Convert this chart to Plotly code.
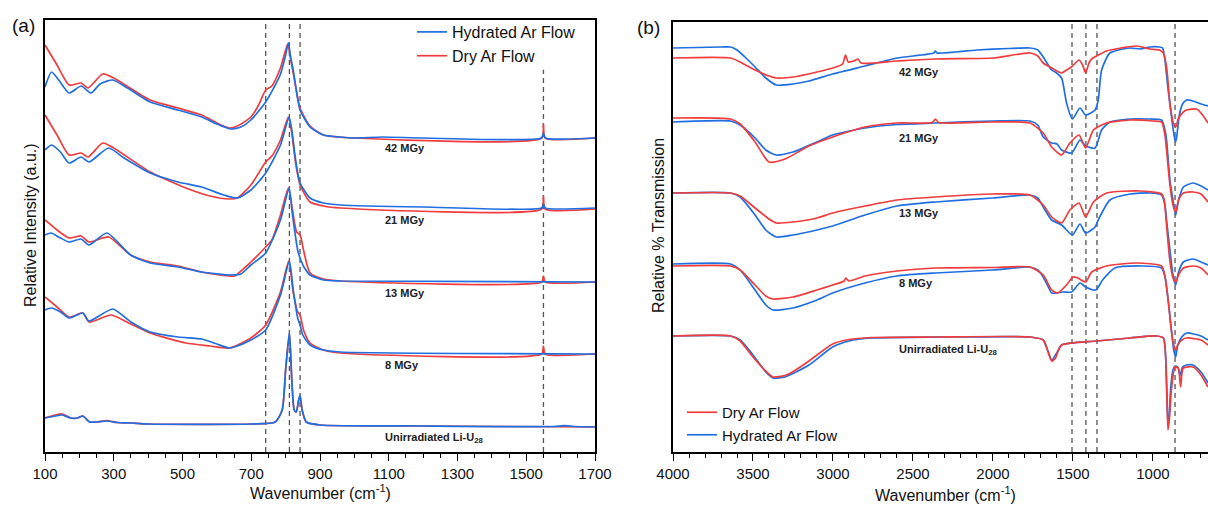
import plotly.graph_objects as go

# ---------------- Panel (a): Raman (stacked, a.u.) ----------------
A_OFFSETS = {"42": 3.14, "21": 2.43, "13": 1.70, "8": 0.98, "0": 0.25}

A42_HYD_X = [100, 119, 140, 170, 205, 234, 260, 297, 340, 406, 487, 556, 600, 640, 670, 699, 742, 784, 800, 808, 815, 822, 842, 871, 910, 958, 1000, 1080, 1200, 1545, 1550, 1555, 1700]
A42_HYD_Y = [0.51, 0.66, 0.58, 0.45, 0.52, 0.45, 0.54, 0.58, 0.50, 0.36, 0.28, 0.21, 0.14, 0.09, 0.11, 0.18, 0.36, 0.63, 0.83, 0.95, 0.80, 0.68, 0.28, 0.11, 0.03, 0.01, 0.00, 0.01, 0.00, 0.00, 0.05, 0.00, 0.00]
A42_DRY_X = [100, 135, 170, 205, 225, 268, 300, 406, 487, 556, 600, 636, 660, 699, 720, 742, 760, 785, 806, 815, 825, 842, 871, 910, 1000, 1545, 1550, 1555, 1700]
A42_DRY_Y = [0.93, 0.73, 0.53, 0.55, 0.50, 0.64, 0.60, 0.38, 0.30, 0.23, 0.15, 0.10, 0.12, 0.21, 0.32, 0.48, 0.52, 0.70, 0.94, 0.78, 0.60, 0.30, 0.12, 0.03, 0.00, 0.00, 0.14, 0.00, 0.00]

A21_HYD_X = [100, 119, 145, 170, 205, 228, 285, 330, 406, 487, 556, 620, 659, 699, 742, 785, 810, 818, 829, 842, 871, 910, 960, 1200, 1545, 1550, 1555, 1700]
A21_HYD_Y = [0.59, 0.64, 0.57, 0.46, 0.52, 0.47, 0.61, 0.51, 0.36, 0.27, 0.22, 0.14, 0.11, 0.19, 0.36, 0.64, 0.92, 0.79, 0.49, 0.26, 0.11, 0.06, 0.04, 0.02, 0.01, 0.05, 0.01, 0.01]
A21_DRY_X = [100, 135, 170, 205, 225, 268, 300, 406, 510, 580, 636, 660, 699, 742, 760, 785, 808, 818, 829, 842, 871, 910, 960, 1545, 1550, 1555, 1700]
A21_DRY_Y = [0.94, 0.74, 0.54, 0.56, 0.52, 0.66, 0.61, 0.37, 0.21, 0.13, 0.10, 0.11, 0.24, 0.47, 0.53, 0.69, 0.92, 0.76, 0.46, 0.24, 0.07, 0.03, 0.01, 0.00, 0.13, 0.00, 0.00]

A13_HYD_X = [100, 118, 145, 170, 205, 228, 280, 349, 406, 487, 556, 640, 670, 699, 742, 785, 810, 820, 835, 842, 855, 871, 910, 960, 1700]
A13_HYD_Y = [0.47, 0.49, 0.44, 0.40, 0.43, 0.37, 0.49, 0.27, 0.19, 0.15, 0.10, 0.07, 0.08, 0.17, 0.29, 0.62, 0.94, 0.67, 0.32, 0.24, 0.14, 0.07, 0.02, 0.01, 0.00]
A13_DRY_X = [100, 135, 170, 205, 228, 285, 349, 406, 487, 556, 636, 651, 699, 742, 760, 785, 808, 820, 832, 842, 852, 871, 910, 960, 1545, 1550, 1555, 1700]
A13_DRY_Y = [0.62, 0.52, 0.44, 0.46, 0.40, 0.45, 0.27, 0.20, 0.16, 0.10, 0.06, 0.06, 0.20, 0.35, 0.42, 0.67, 0.94, 0.72, 0.50, 0.47, 0.32, 0.09, 0.03, 0.01, 0.00, 0.06, 0.00, 0.00]

A8_HYD_X = [100, 118, 145, 170, 210, 228, 297, 350, 406, 487, 556, 600, 636, 651, 699, 742, 785, 811, 822, 835, 842, 850, 871, 910, 960, 1700]
A8_HYD_Y = [0.44, 0.46, 0.42, 0.36, 0.41, 0.33, 0.45, 0.32, 0.22, 0.17, 0.15, 0.10, 0.06, 0.07, 0.14, 0.24, 0.59, 0.93, 0.64, 0.36, 0.29, 0.19, 0.09, 0.04, 0.02, 0.00]
A8_DRY_X = [100, 135, 170, 210, 228, 292, 350, 406, 510, 580, 636, 699, 742, 785, 809, 822, 835, 842, 852, 871, 910, 960, 1545, 1550, 1555, 1700]
A8_DRY_Y = [0.57, 0.47, 0.37, 0.41, 0.32, 0.39, 0.30, 0.21, 0.11, 0.08, 0.06, 0.16, 0.29, 0.62, 0.93, 0.62, 0.42, 0.39, 0.24, 0.11, 0.04, 0.01, 0.00, 0.08, 0.00, 0.00]

A0_HYD_X = [100, 130, 150, 175, 195, 210, 230, 250, 280, 310, 350, 400, 700, 770, 790, 800, 811, 818, 825, 831, 838, 842, 848, 860, 900, 1200, 1580, 1610, 1640, 1700]
A0_HYD_Y = [0.09, 0.11, 0.12, 0.09, 0.09, 0.11, 0.05, 0.05, 0.06, 0.045, 0.04, 0.03, 0.03, 0.05, 0.17, 0.57, 0.95, 0.47, 0.17, 0.15, 0.27, 0.32, 0.17, 0.05, 0.02, 0.01, 0.005, 0.013, 0.005, 0.00]
A0_DRY_X = [100, 130, 150, 175, 195, 210, 230, 250, 280, 310, 350, 400, 700, 770, 790, 800, 811, 818, 825, 831, 838, 842, 848, 860, 900, 1200, 1700]
A0_DRY_Y = [0.09, 0.12, 0.13, 0.09, 0.09, 0.11, 0.05, 0.05, 0.065, 0.045, 0.04, 0.03, 0.03, 0.05, 0.17, 0.57, 0.94, 0.47, 0.17, 0.15, 0.27, 0.31, 0.17, 0.05, 0.02, 0.01, 0.00]

A_DASHED = [742, 811, 842]
A_DASHED_SHORT = [1550]
A_LABELS = ["42 MGy", "21 MGy", "13 MGy", "8 MGy", "Unirradiated Li-U<sub>28</sub>"]
A_TICKS = [100, 300, 500, 700, 900, 1100, 1300, 1500, 1700]

# ---------------- Panel (b): FTIR (stacked, relative %T) ----------------
B_OFFSETS = {"42": 4.04, "21": 3.30, "13": 2.59, "8": 1.88, "0": 1.16}

B42_HYD_X = [4000, 3700, 3640, 3600, 3550, 3487, 3420, 3354, 3250, 3150, 3002, 2800, 2600, 2370, 2360, 2350, 2100, 1900, 1769, 1720, 1686, 1633, 1602, 1571, 1540, 1504, 1456, 1421, 1362, 1342, 1321, 1269, 1144, 1081, 1019, 960, 940, 925, 905, 880, 865, 858, 850, 835, 815, 790, 750, 700, 656]
B42_HYD_Y = [0.00, 0.01, 0.01, -0.02, -0.09, -0.19, -0.30, -0.37, -0.36, -0.33, -0.26, -0.18, -0.10, -0.05, -0.03, -0.05, -0.02, -0.005, 0.00, -0.02, -0.09, -0.22, -0.25, -0.30, -0.55, -0.71, -0.60, -0.67, -0.62, -0.52, -0.22, -0.05, 0.00, -0.01, 0.01, 0.01, 0.00, -0.12, -0.42, -0.74, -0.90, -0.94, -0.87, -0.67, -0.56, -0.52, -0.53, -0.56, -0.58]
B42_DRY_X = [4000, 3640, 3580, 3500, 3400, 3354, 3250, 3100, 3002, 2940, 2922, 2905, 2870, 2844, 2825, 2600, 2360, 2000, 1769, 1720, 1686, 1633, 1571, 1540, 1510, 1462, 1440, 1421, 1400, 1383, 1290, 1200, 1102, 1019, 960, 935, 915, 894, 873, 858, 840, 810, 790, 727, 690, 656]
B42_DRY_Y = [-0.10, -0.10, -0.14, -0.21, -0.28, -0.30, -0.29, -0.24, -0.20, -0.16, -0.07, -0.14, -0.13, -0.11, -0.15, -0.13, -0.11, -0.10, -0.05, -0.08, -0.15, -0.20, -0.25, -0.22, -0.19, -0.12, -0.17, -0.25, -0.15, -0.11, -0.03, 0.00, 0.02, -0.01, -0.02, -0.05, -0.19, -0.55, -0.75, -0.79, -0.70, -0.64, -0.62, -0.61, -0.67, -0.75]

B21_HYD_X = [4000, 3640, 3580, 3487, 3420, 3354, 3250, 3100, 3002, 2800, 2600, 2360, 2000, 1769, 1720, 1686, 1633, 1600, 1571, 1509, 1456, 1421, 1362, 1321, 1269, 1144, 1019, 946, 925, 915, 894, 875, 858, 840, 810, 749, 700, 656]
B21_HYD_Y = [0.00, 0.01, -0.03, -0.16, -0.28, -0.33, -0.30, -0.20, -0.13, -0.06, -0.025, -0.01, 0.01, 0.01, -0.03, -0.15, -0.21, -0.22, -0.28, -0.31, -0.18, -0.24, -0.26, -0.08, 0.00, 0.03, 0.03, 0.02, -0.08, -0.18, -0.58, -0.78, -0.93, -0.78, -0.65, -0.61, -0.64, -0.68]
B21_DRY_X = [4000, 3640, 3580, 3487, 3400, 3300, 3150, 3002, 2800, 2600, 2380, 2360, 2340, 2000, 1769, 1686, 1633, 1571, 1519, 1462, 1421, 1372, 1290, 1144, 1000, 946, 925, 915, 894, 875, 858, 840, 810, 749, 700, 656]
B21_DRY_Y = [0.04, 0.03, -0.02, -0.20, -0.40, -0.37, -0.24, -0.15, -0.05, -0.01, -0.005, 0.03, -0.005, 0.00, -0.01, -0.11, -0.25, -0.33, -0.21, -0.13, -0.26, -0.08, -0.01, 0.02, 0.01, 0.00, -0.13, -0.28, -0.63, -0.83, -0.90, -0.78, -0.71, -0.70, -0.72, -0.80]

B13_HYD_X = [4000, 3640, 3580, 3487, 3420, 3354, 3250, 3100, 3002, 2800, 2600, 2360, 2000, 1769, 1720, 1686, 1633, 1571, 1504, 1456, 1421, 1362, 1342, 1269, 1144, 1019, 946, 925, 915, 894, 875, 858, 840, 810, 749, 700, 656]
B13_HYD_Y = [0.00, 0.00, -0.04, -0.22, -0.37, -0.44, -0.42, -0.37, -0.33, -0.22, -0.13, -0.09, -0.05, -0.02, -0.05, -0.14, -0.27, -0.32, -0.42, -0.31, -0.40, -0.34, -0.27, -0.07, -0.01, 0.00, -0.02, -0.12, -0.27, -0.57, -0.82, -0.92, -0.79, -0.69, -0.66, -0.69, -0.72]
B13_DRY_X = [4000, 3640, 3580, 3487, 3400, 3354, 3250, 3100, 3002, 2800, 2600, 2360, 2000, 1769, 1686, 1633, 1571, 1519, 1462, 1421, 1372, 1290, 1081, 946, 930, 915, 895, 875, 858, 840, 810, 749, 700, 656]
B13_DRY_Y = [0.00, 0.00, -0.03, -0.15, -0.26, -0.30, -0.29, -0.25, -0.20, -0.13, -0.07, -0.04, -0.01, -0.02, -0.12, -0.24, -0.30, -0.17, -0.10, -0.24, -0.09, 0.00, 0.02, -0.01, -0.07, -0.32, -0.67, -0.85, -0.89, -0.82, -0.75, -0.73, -0.75, -0.82]

B8_HYD_X = [4000, 3640, 3580, 3487, 3420, 3375, 3250, 3100, 3002, 2800, 2600, 2360, 2000, 1769, 1720, 1686, 1660, 1633, 1602, 1565, 1509, 1456, 1421, 1357, 1315, 1238, 1065, 946, 925, 905, 885, 870, 858, 845, 820, 789, 700, 656]
B8_HYD_Y = [0.00, 0.00, -0.06, -0.26, -0.41, -0.46, -0.44, -0.36, -0.29, -0.19, -0.12, -0.09, -0.06, -0.03, -0.06, -0.13, -0.21, -0.29, -0.29, -0.28, -0.28, -0.19, -0.23, -0.26, -0.16, -0.04, -0.02, -0.04, -0.13, -0.36, -0.66, -0.86, -0.93, -0.81, -0.73, -0.69, -0.72, -0.76]
B8_DRY_X = [4000, 3640, 3580, 3487, 3420, 3375, 3250, 3100, 3002, 2930, 2920, 2900, 2800, 2600, 2360, 2000, 1769, 1686, 1633, 1596, 1540, 1500, 1470, 1421, 1383, 1290, 1102, 946, 925, 905, 885, 870, 858, 845, 820, 789, 700, 656]
B8_DRY_Y = [-0.02, -0.02, -0.06, -0.21, -0.32, -0.35, -0.33, -0.26, -0.21, -0.17, -0.14, -0.17, -0.12, -0.07, -0.04, -0.035, -0.03, -0.11, -0.26, -0.29, -0.21, -0.13, -0.14, -0.18, -0.08, -0.02, 0.01, -0.02, -0.12, -0.36, -0.66, -0.81, -0.86, -0.81, -0.76, -0.74, -0.76, -0.81]

B0_HYD_X = [4000, 3640, 3580, 3500, 3420, 3375, 3300, 3244, 3150, 3002, 2900, 2760, 2372, 2200, 1769, 1686, 1658, 1633, 1602, 1571, 1509, 1352, 1144, 977, 935, 915, 906, 900, 890, 875, 862, 845, 830, 815, 790, 750, 700, 656]
B0_HYD_Y = [0.00, 0.00, -0.04, -0.19, -0.36, -0.42, -0.41, -0.37, -0.29, -0.11, -0.05, -0.02, -0.01, -0.01, -0.01, -0.04, -0.14, -0.24, -0.17, -0.09, -0.07, -0.05, -0.02, 0.00, -0.02, -0.44, -0.89, -0.84, -0.54, -0.34, -0.30, -0.31, -0.39, -0.31, -0.29, -0.29, -0.36, -0.47]
B0_DRY_X = [4000, 3640, 3580, 3500, 3420, 3375, 3300, 3244, 3150, 3002, 2900, 2760, 2372, 1769, 1686, 1658, 1633, 1610, 1590, 1571, 1509, 1352, 1144, 977, 935, 915, 906, 898, 883, 862, 842, 832, 827, 820, 810, 748, 700, 656]
B0_DRY_Y = [0.00, 0.00, -0.05, -0.21, -0.35, -0.41, -0.395, -0.35, -0.25, -0.08, -0.035, -0.015, -0.01, -0.01, -0.04, -0.15, -0.25, -0.22, -0.14, -0.09, -0.07, -0.05, -0.02, 0.00, -0.02, -0.51, -0.94, -0.84, -0.51, -0.31, -0.32, -0.44, -0.51, -0.39, -0.32, -0.31, -0.39, -0.51]

B_DASHED = [1506, 1419, 1350, 862]
B_LABELS = ["42 MGy", "21 MGy", "13 MGy", "8 MGy", "Unirradiated Li-U<sub>28</sub>"]
B_TICKS = [4000, 3500, 3000, 2500, 2000, 1500, 1000]

BLUE = "#1f6fe0"
RED = "#f03c3c"
DASH = "#555555"
FONT = "Liberation Sans"
W, H = 1208, 506

fig = go.Figure()

def add(xs, ys, off, color, name, xa, ya, legend, show, rank):
    fig.add_trace(go.Scatter(
        x=xs, y=[v + off for v in ys], mode="lines", name=name,
        line=dict(color=color, width=1.7, shape="spline", smoothing=0.6), xaxis=xa, yaxis=ya,
        legend=legend, showlegend=show, legendrank=rank, hoverinfo="skip"))

a_series = [("42", A42_DRY_X, A42_DRY_Y, A42_HYD_X, A42_HYD_Y),
            ("21", A21_DRY_X, A21_DRY_Y, A21_HYD_X, A21_HYD_Y),
            ("13", A13_DRY_X, A13_DRY_Y, A13_HYD_X, A13_HYD_Y),
            ("8", A8_DRY_X, A8_DRY_Y, A8_HYD_X, A8_HYD_Y),
            ("0", A0_DRY_X, A0_DRY_Y, A0_HYD_X, A0_HYD_Y)]
for i, (k, dx, dy, hx, hy) in enumerate(a_series):
    add(dx, dy, A_OFFSETS[k], RED, "Dry Ar Flow", "x", "y", "legend", i == 0, 2)
    add(hx, hy, A_OFFSETS[k], BLUE, "Hydrated Ar Flow", "x", "y", "legend", i == 0, 1)

b_series = [("42", B42_DRY_X, B42_DRY_Y, B42_HYD_X, B42_HYD_Y),
            ("21", B21_DRY_X, B21_DRY_Y, B21_HYD_X, B21_HYD_Y),
            ("13", B13_DRY_X, B13_DRY_Y, B13_HYD_X, B13_HYD_Y),
            ("8", B8_DRY_X, B8_DRY_Y, B8_HYD_X, B8_HYD_Y),
            ("0", B0_DRY_X, B0_DRY_Y, B0_HYD_X, B0_HYD_Y)]
for i, (k, dx, dy, hx, hy) in enumerate(b_series):
    add(hx, hy, B_OFFSETS[k], BLUE, "Hydrated Ar Flow", "x2", "y2", "legend2", i == 0, 2)
    add(dx, dy, B_OFFSETS[k], RED, "Dry Ar Flow", "x2", "y2", "legend2", i == 0, 1)

shapes = []
for v in A_DASHED:
    shapes.append(dict(type="line", xref="x", yref="y domain", x0=v, x1=v, y0=0, y1=1,
                       line=dict(color=DASH, width=1.3, dash="5px,4px"), layer="below"))
for v in A_DASHED_SHORT:
    shapes.append(dict(type="line", xref="x", yref="y domain", x0=v, x1=v, y0=0, y1=0.885,
                       line=dict(color=DASH, width=1.3, dash="5px,4px"), layer="below"))
for v in B_DASHED:
    shapes.append(dict(type="line", xref="x2", yref="y2 domain", x0=v, x1=v, y0=0, y1=1,
                       line=dict(color=DASH, width=1.3, dash="5px,4px"), layer="below"))

annotations = []
a_label_y = [3.04, 2.32, 1.59, 0.87, 0.14]
for t, yv in zip(A_LABELS, a_label_y):
    annotations.append(dict(x=1083, y=yv, xref="x", yref="y", text="<b>%s</b>" % t, showarrow=False,
                            xanchor="left", yanchor="middle", font=dict(family=FONT, size=11, color="#222")))
b_label_y = [3.80, 3.14, 2.39, 1.69, 1.02]
for t, yv in zip(B_LABELS, b_label_y):
    annotations.append(dict(x=2598, y=yv, xref="x2", yref="y2", text="<b>%s</b>" % t, showarrow=False,
                            xanchor="left", yanchor="middle", font=dict(family=FONT, size=11, color="#222")))

def px(xp, yp):
    return xp / W, 1 - yp / H

for text, (xp, yp), ang in [("(a)", (23, 25), 0), ("(b)", (648, 27), 0),
                            ("Relative Intensity (a.u.)", (30, 225), -90),
                            ("Relative % Transmission", (658, 225), -90),
                            ("Wavenumber (cm<sup>-1</sup>)", (320, 492), 0),
                            ("Wavenumber (cm<sup>-1</sup>)", (946, 494), 0)]:
    xx, yy = px(xp, yp)
    annotations.append(dict(x=xx, y=yy, xref="paper", yref="paper", text=text, showarrow=False,
                            textangle=ang, xanchor="center", yanchor="middle",
                            font=dict(family=FONT, size=19 if text.startswith("(") else 16, color="#111")))

axis_common = dict(showline=True, linecolor="black", linewidth=1.5, ticks="outside", ticklen=7,
                   tickwidth=1.3, tickcolor="black", showgrid=False, zeroline=False,
                   tickfont=dict(family=FONT, size=15, color="#111"))

fig.update_layout(
    width=W, height=H, margin=dict(l=0, r=0, t=0, b=0, pad=0, autoexpand=False),
    paper_bgcolor="white", plot_bgcolor="white",
    xaxis=dict(domain=[45 / W, 595 / W], range=[100, 1700], tickvals=A_TICKS, mirror=True,
               minor=dict(dtick=50, ticklen=4, tickcolor="black", tickwidth=1.2, ticks="outside"),
               anchor="y", **axis_common),
    yaxis=dict(domain=[1 - 452 / H, 1 - 20 / H], range=[0, 4.32], showline=True, linecolor="black",
               linewidth=1.5, mirror=True, showticklabels=False, ticks="", showgrid=False,
               zeroline=False, anchor="x"),
    xaxis2=dict(domain=[673 / W, 1.0], range=[4000, 656], tickvals=B_TICKS, mirror=True,
                minor=dict(dtick=100, ticklen=4, tickcolor="black", tickwidth=1.2, ticks="outside"),
                anchor="y2", **axis_common),
    yaxis2=dict(domain=[1 - 452 / H, 1 - 22 / H], range=[0, 4.30], showline=True, linecolor="black",
                linewidth=1.5, mirror=False, showticklabels=False, ticks="", showgrid=False,
                zeroline=False, anchor="x2"),
    legend=dict(x=412 / W, y=1 - 15 / H, xanchor="left", yanchor="top", bgcolor="rgba(0,0,0,0)",
                font=dict(family=FONT, size=16, color="#111"), tracegroupgap=0),
    legend2=dict(x=682 / W, y=1 - 396 / H, xanchor="left", yanchor="top", bgcolor="rgba(0,0,0,0)",
                 font=dict(family=FONT, size=15, color="#111"), tracegroupgap=0),
    shapes=shapes, annotations=annotations, showlegend=True,
)

fig.write_html("out.html", config={"displayModeBar": False},
               post_script="document.body.style.margin='0px';document.body.style.overflow='hidden';")
